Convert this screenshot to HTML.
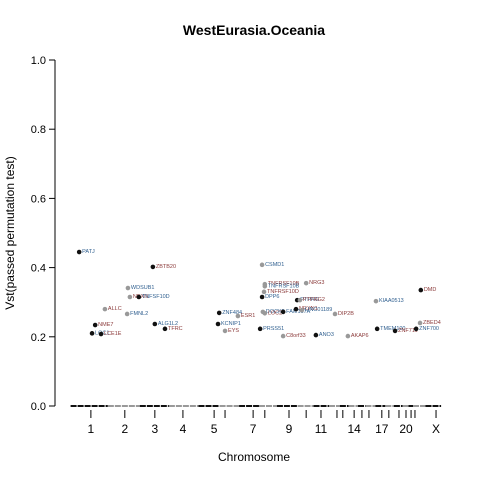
<!DOCTYPE html>
<html><head><meta charset="utf-8"><style>
body{margin:0;background:#fff;}
svg{display:block;font-family:"Liberation Sans",sans-serif;}
</style></head><body>
<svg id="chart" width="480" height="480">
<text x="254" y="35" text-anchor="middle" font-size="14" font-weight="bold">WestEurasia.Oceania</text>
<text x="254" y="461" text-anchor="middle" font-size="12">Chromosome</text>
<text transform="translate(14,233) rotate(-90)" text-anchor="middle" font-size="12">Vst(passed permutation test)</text>
<g id="axes"></g><g id="base"></g><g id="pts"></g>
</svg>
<script>
const chromLabels=["1","2","3","4","5","6","7","8","9","10","11","12","13","14","15","16","17","18","19","20","21","22","X"];
const chromPos=[9.2,17.9,25.6,32.8,40.8,43.6,50.8,53.8,60,64.4,68.2,72.3,73.8,76.7,78.7,80.5,83.8,85.6,88.2,90,91.3,92.3,97.7];
const shownLabels=["1","2","3","4","5","7","9","11","14","17","20","X"];
const yTicks=[0,0.2,0.4,0.6,0.8,1.0];
const yTickLabels=["0.0","0.2","0.4","0.6","0.8","1.0"];
const genes=["PATJ","ZBTB20","WDSUB1","NEXN","TNFSF10D","ALLC","FMNL2","NME7","LOC1","LCE1E","ALG1L2","TFRC","ZNF484","ESR1","KCNIP1","EYS","CSMD1","TNFRSF10B","TNFRSF10B","TNFRSF10D","DPP6","NRG3","PTPRG","PTPRG2","DOCK5","LOC2","FAM167A","NRXN1","LINC01189","DIP2B","PRSS51","C8orf33","ANO3","AKAP6","KIAA0513","DMD","TMEM100","ZNF711","ZNF700","ZBED4"];
const posX=[6.2,25.1,18.7,19.2,21.5,12.8,18.5,10.3,9.5,11.8,25.6,28.2,42.1,46.9,41.8,43.6,53.1,53.8,53.8,53.6,53.1,64.4,62.1,62.8,53.3,53.8,58.5,61.8,63.3,71.8,52.6,58.5,66.9,75.1,82.3,93.8,82.6,87.2,92.6,93.6];
const vst=[0.445,0.402,0.341,0.315,0.315,0.28,0.266,0.234,0.21,0.208,0.237,0.223,0.269,0.26,0.237,0.217,0.408,0.352,0.346,0.33,0.315,0.355,0.306,0.306,0.272,0.268,0.272,0.28,0.277,0.266,0.223,0.202,0.205,0.202,0.303,0.335,0.223,0.217,0.223,0.24];
const dark=[1,1,0,0,1,0,0,1,1,1,1,1,1,0,1,0,0,0,0,0,1,0,1,0,0,0,1,1,0,0,1,0,1,0,0,1,1,1,1,0];
const X0=55,X1=445,Y0=406,Y1=60;
const xs=v=>X0+(v/100)*(X1-X0);
const ys=v=>Y0-v*(Y0-Y1);
const NS="http://www.w3.org/2000/svg";
function mk(t,a,p){const e=document.createElementNS(NS,t);for(const k in a)e.setAttribute(k,a[k]);p.appendChild(e);return e;}
const ax=document.getElementById('axes');
let l=mk('line',{x1:X0,y1:ys(0),x2:X0,y2:ys(1),stroke:'#000'},ax);


yTicks.forEach((t,i)=>{
 const tk=mk('line',{x1:X0-6,x2:X0,y1:ys(t),y2:ys(t),stroke:'#000'},ax);
 
 
 const tx=mk('text',{x:X0-9,y:ys(t)+4,'text-anchor':'end','font-size':'11'},ax);tx.textContent=yTickLabels[i];
 
 
});
chromPos.forEach((p,i)=>{
 const tk=mk('line',{x1:xs(p),x2:xs(p),y1:410,y2:418,stroke:'#000'},ax);
 
 
 if(shownLabels.includes(chromLabels[i])){
  const tx=mk('text',{x:xs(p),y:433,'text-anchor':'middle','font-size':'12'},ax);tx.textContent=chromLabels[i];
  
  
 }
});
const base=document.getElementById('base');
chromPos.forEach((p,i)=>{
 const a=i===0?4:(chromPos[i-1]+p)/2, b=i===chromPos.length-1?99:(p+chromPos[i+1])/2;
 const s=mk('line',{x1:xs(a),x2:xs(b),y1:ys(0),y2:ys(0),stroke:i%2?'#999':'#111','stroke-width':'2','stroke-dasharray':'6 1'},base);
 
 
});
const pts=document.getElementById('pts');
genes.forEach((g,i)=>{
 const c=mk('circle',{cx:xs(posX[i]),cy:ys(vst[i]),r:2.3,fill:dark[i]?'#111':'#999'},pts);
 
 
 const t=mk('text',{x:xs(posX[i])+3,y:ys(vst[i])+1,'font-size':'5.5',fill:i%2?'#8b3a3a':'#2f5f8f'},pts);t.textContent=g;
 
 
});
</script>
</body></html>
